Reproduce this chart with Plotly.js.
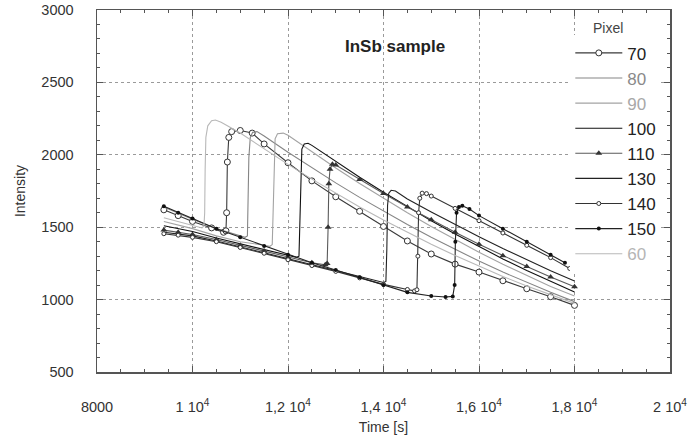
<!DOCTYPE html>
<html>
<head>
<meta charset="utf-8">
<script src="https://cdn.plot.ly/plotly-3.0.1.min.js"></script>
<style>html,body{margin:0;padding:0;background:#fff;}#chart{width:688px;height:442px;}</style>
</head>
<body>
<div id="chart"></div>
<script>
// ---- data ----
const pixels = ['70', '80', '90', '100', '110', '130', '140', '150', '60'];

const t60 = [9400, 9700, 10000, 10200, 10240, 10255, 10265, 10280, 10320, 10400, 10480, 10600, 11000, 11500, 12000, 12500, 13000, 13500, 14000, 14500, 15000, 15500, 16000, 16500, 17000, 17500, 18000];
const i60 = [1565, 1540, 1510, 1495, 1510, 1600, 1900, 2120, 2200, 2235, 2240, 2225, 2150, 2040, 1934, 1832, 1734, 1640, 1550, 1464, 1382, 1304, 1230, 1160, 1094, 1032, 974];

const t70 = [9400, 9700, 10000, 10400, 10650, 10700, 10715, 10730, 10760, 10820, 11000, 11250, 11500, 12000, 12500, 13000, 13500, 14000, 14500, 15000, 15500, 16000, 16500, 17000, 17500, 18000];
const i70 = [1620, 1580, 1540, 1495, 1465, 1475, 1600, 1950, 2120, 2160, 2168, 2150, 2075, 1945, 1820, 1710, 1610, 1505, 1405, 1315, 1245, 1190, 1130, 1075, 1020, 960];

const t80 = [9400, 9700, 10000, 10500, 11000, 11100, 11150, 11165, 11180, 11210, 11260, 11350, 11500, 12000, 12500, 13000, 13500, 14000, 14500, 15000, 15500, 16000, 16500, 17000, 17500, 18000];
const i80 = [1640, 1595, 1555, 1490, 1440, 1430, 1440, 1650, 1980, 2120, 2155, 2160, 2130, 2018, 1910, 1806, 1706, 1610, 1518, 1430, 1346, 1266, 1190, 1118, 1050, 986];

const t90 = [9400, 9700, 10000, 10500, 11000, 11500, 11620, 11670, 11690, 11705, 11730, 11780, 11900, 12000, 12500, 13000, 13500, 14000, 14500, 15000, 15500, 16000, 16500, 17000, 17500, 18000];
const i90 = [1540, 1515, 1490, 1440, 1400, 1375, 1368, 1380, 1650, 1980, 2110, 2145, 2150, 2135, 2020, 1909, 1802, 1699, 1600, 1505, 1414, 1327, 1244, 1165, 1090, 1025];

const t100 = [9400, 9700, 10000, 10500, 11000, 11500, 12000, 12180, 12230, 12250, 12265, 12290, 12340, 12420, 12500, 13000, 13500, 14000, 14500, 15000, 15500, 16000, 16500, 17000, 17500, 18000];
const i100 = [1510, 1490, 1470, 1425, 1385, 1345, 1305, 1292, 1300, 1550, 1900, 2040, 2075, 2080, 2065, 1953, 1845, 1741, 1641, 1545, 1453, 1365, 1281, 1201, 1125, 1053];

const t110 = [9400, 9700, 10000, 10500, 11000, 11500, 12000, 12500, 12780, 12820, 12840, 12855, 12880, 12930, 13000, 13500, 14000, 14500, 15000, 15500, 16000, 16500, 17000, 17500, 18000];
const i110 = [1480, 1465, 1450, 1415, 1375, 1335, 1290, 1255, 1240, 1250, 1500, 1800, 1900, 1935, 1930, 1830, 1733, 1640, 1551, 1465, 1382, 1303, 1228, 1156, 1088];

const t130 = [9400, 9700, 10000, 10500, 11000, 11500, 12000, 12500, 13000, 13500, 14000, 14050, 14070, 14085, 14110, 14160, 14250, 14500, 15000, 15500, 16000, 16500, 17000, 17500, 18000];
const i130 = [1465, 1450, 1440, 1405, 1365, 1325, 1280, 1240, 1200, 1160, 1118, 1125, 1350, 1650, 1735, 1755, 1750, 1695, 1605, 1518, 1434, 1353, 1275, 1200, 1128];

const t140 = [9400, 9700, 10000, 10500, 11000, 11500, 12000, 12500, 13000, 13500, 14000, 14500, 14650, 14700, 14720, 14735, 14760, 14810, 14900, 15000, 15500, 16000, 16500, 17000, 17500, 17900];
const i140 = [1455, 1445, 1430, 1400, 1360, 1320, 1275, 1235, 1195, 1150, 1105, 1070, 1060, 1068, 1300, 1600, 1700, 1735, 1732, 1715, 1630, 1545, 1460, 1375, 1290, 1215];

const t150 = [9400, 9700, 10000, 10500, 11000, 11500, 12000, 12500, 13000, 13500, 14000, 14500, 15000, 15300, 15450, 15490, 15505, 15530, 15580, 15650, 15800, 16000, 16500, 17000, 17500, 17800];
const i150 = [1645, 1600, 1560, 1490, 1430, 1370, 1310, 1255, 1205, 1155, 1100, 1050, 1025, 1018, 1022, 1100, 1400, 1600, 1640, 1648, 1625, 1580, 1490, 1400, 1310, 1255];

const xTickVals = [8000, 10000, 12000, 14000, 16000, 18000, 20000];
const xTickText = ['8000', '1 10<sup>4</sup>', '1,2 10<sup>4</sup>', '1,4 10<sup>4</sup>', '1,6 10<sup>4</sup>', '1,8 10<sup>4</sup>', '2 10<sup>4</sup>'];
const yTickVals = [500, 1000, 1500, 2000, 2500, 3000];

// ---- styles ----
const seriesX = {'60': t60, '70': t70, '80': t80, '90': t90, '100': t100, '110': t110, '130': t130, '140': t140, '150': t150};
const seriesY = {'60': i60, '70': i70, '80': i80, '90': i90, '100': i100, '110': i110, '130': i130, '140': i140, '150': i150};
const style = {
  '70':  {color: '#3a3a3a', mode: 'lines+markers', marker: {symbol: 'circle', size: 6, color: 'white', line: {color: '#333', width: 1}}, text: '#222'},
  '80':  {color: '#858585', mode: 'lines', text: '#8a8a8a'},
  '90':  {color: '#a3a3a3', mode: 'lines', text: '#a8a8a8'},
  '100': {color: '#111111', mode: 'lines', text: '#222'},
  '110': {color: '#5a5a5a', mode: 'lines+markers', marker: {symbol: 'triangle-up', size: 6, color: '#333'}, text: '#222'},
  '130': {color: '#222222', mode: 'lines', text: '#222'},
  '140': {color: '#333333', mode: 'lines+markers', marker: {symbol: 'circle', size: 4, color: 'white', line: {color: '#333', width: 1}}, text: '#222'},
  '150': {color: '#222222', mode: 'lines+markers', marker: {symbol: 'circle', size: 4, color: '#111'}, text: '#222'},
  '60':  {color: '#b8b8b8', mode: 'lines', text: '#b5b5b5'}
};

const traces = pixels.map(function (p) {
  const s = style[p];
  const tr = {
    type: 'scatter', x: seriesX[p], y: seriesY[p], mode: s.mode,
    name: '<span style="color:' + s.text + '">' + p + '</span>',
    legendgroup: 'g' + p,
    line: {color: s.color, width: 1.1},
    hoverinfo: 'skip'
  };
  if (s.marker) tr.marker = s.marker;
  return tr;
});

const axisCommon = {
  showline: true, linecolor: '#555', linewidth: 1.5, mirror: 'allticks',
  ticks: 'inside', ticklen: 6, tickcolor: '#555', tickwidth: 1,
  showgrid: true, gridcolor: '#9a9a9a', griddash: 'dot', gridwidth: 1,
  zeroline: false, automargin: false,
  tickfont: {size: 14.5, color: '#333'}
};

const layout = {
  width: 688, height: 442,
  margin: {l: 97, r: 18, t: 10, b: 70},
  paper_bgcolor: 'white', plot_bgcolor: 'white',
  font: {family: '"Liberation Sans", Arial, sans-serif', size: 13, color: '#333'},
  showlegend: true,
  xaxis: Object.assign({}, axisCommon, {
    range: [8000, 20000], tickmode: 'array', tickvals: xTickVals, ticktext: xTickText,
    minor: {dtick: 500, tick0: 8000, ticks: 'inside', ticklen: 3, tickcolor: '#555', showgrid: false},
    ticklabelstandoff: 21,
    title: {text: 'Time [s]', font: {size: 14, color: '#333'}, standoff: 8}
  }),
  yaxis: Object.assign({}, axisCommon, {
    range: [500, 3000], tickmode: 'array', tickvals: yTickVals,
    minor: {dtick: 100, tick0: 500, ticks: 'inside', ticklen: 3, tickcolor: '#555', showgrid: false},
    ticklabelstandoff: 19,
    title: {text: 'Intensity', font: {size: 14, color: '#333'}, standoff: 12}
  }),
  legend: {
    x: 0.826, xanchor: 'left', y: 0.93, yanchor: 'top',
    bgcolor: 'white', borderwidth: 0,
    font: {size: 17, color: '#222'},
    tracegroupgap: 4, itemwidth: 47, traceorder: 'normal'
  },
  annotations: [
    {text: '<b>InSb sample</b>', xref: 'paper', yref: 'paper', x: 0.52, y: 0.9, showarrow: false,
     font: {size: 17, color: '#222'}, xanchor: 'center', yanchor: 'middle'},
    {text: 'Pixel', xref: 'paper', yref: 'paper', x: 0.891, y: 0.95, showarrow: false,
     font: {size: 14, color: '#444'}, xanchor: 'center', yanchor: 'middle'}
  ]
};

Plotly.newPlot('chart', traces, layout, {staticPlot: true, displayModeBar: false});
</script>
</body>
</html>
